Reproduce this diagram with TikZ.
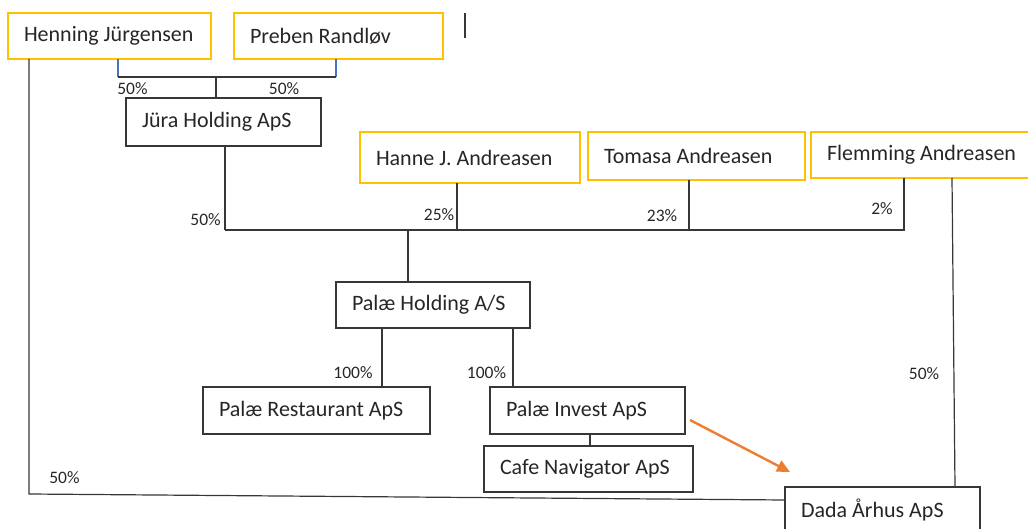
\documentclass[tikz,border=0pt]{standalone}
\usepackage{fontspec}
\setmainfont{Carlito}
\usetikzlibrary{arrows.meta}
\definecolor{txt}{RGB}{38,38,38}
\definecolor{ln}{RGB}{55,55,55}
\definecolor{gold}{RGB}{255,192,0}
\definecolor{orng}{RGB}{237,125,49}
\definecolor{blu}{RGB}{68,114,196}
\newcommand\lbx[2]{\makebox[#1pt][l]{#2}}
\begin{document}
\begin{tikzpicture}[x=1pt,y=-1pt,
  bx/.style={draw=ln, line width=1.2pt, text=txt, font=\fontsize{22}{26}\selectfont,
    inner xsep=16pt, inner ysep=0pt, outer sep=0pt, anchor=north west},
  own/.style={bx, draw=gold},
  pct/.style={text=txt, font=\fontsize{17.5}{20}\selectfont, inner sep=0pt},
  con/.style={draw=ln, line width=1.2pt},
  blueline/.style={draw=blu, line width=1.1pt},
  arr/.style={draw=orng, line width=2.4pt, -{Triangle[length=13pt,width=12pt]}}]
\useasboundingbox (0,0) rectangle (1028,529);

% boxes
\node[own, minimum height=46pt] (hj) at (8,13) {\lbx{171}{Henning Jürgensen}};
\node[own, minimum height=46pt] (pr) at (234,13) {\lbx{177}{Preben Randløv}};
\node[bx, minimum height=48pt] (jura) at (126,98) {\lbx{163}{Jüra Holding ApS}};
\node[own, minimum height=51pt] (hanne) at (360,132) {\lbx{188}{Hanne J. Andreasen}};
\node[own, minimum height=48pt] (tomasa) at (588,132) {\lbx{185}{Tomasa Andreasen}};
\node[own, minimum height=46pt] (flemming) at (811,132) {\lbx{188}{Flemming Andreasen}};
\node[bx, minimum height=46pt] (holding) at (336,282) {\lbx{162}{Palæ Holding A/S}};
\node[bx, minimum height=47pt] (rest) at (203,387) {\lbx{195}{Palæ Restaurant ApS}};
\node[bx, minimum height=47pt] (invest) at (490,387) {\lbx{163}{Palæ Invest ApS}};
\node[bx, minimum height=46pt] (cafe) at (484,446) {\lbx{177}{Cafe Navigator ApS}};
\node[bx, minimum height=46pt] (dada) at (785,487) {\lbx{163}{Dada Århus ApS}};

% coordinates
\coordinate (a1) at (118,77);
\coordinate (a2) at (336,77);
\coordinate (a3) at (216,77);
\coordinate (b0) at (225,230);
\coordinate (b1) at (905,230);
\coordinate (b2) at (457,230);
\coordinate (b3) at (689,230);
\coordinate (b4) at (904,230);
\coordinate (b5) at (408,230);
\coordinate (c1) at (382,387);
\coordinate (c2) at (513,387);
\coordinate (c3) at (590,446);
\coordinate (d1) at (29,494);
\coordinate (e1) at (952,178);
\coordinate (e2) at (955,487);
\coordinate (f1) at (690,420);
\coordinate (f2) at (790,472);
\coordinate (g1) at (465,13);
\coordinate (g2) at (465,38);

% connectors
\draw[blueline] (hj.south -| a1) -- (a1);
\draw[blueline] (pr.south -| a2) -- (a2);
\draw[con] (a1) -- (a2);
\draw[con] (a3) -- (jura.north -| a3);
\draw[con] (jura.south -| b0) -- (b0);
\draw[con] (b0) -- (b1);
\draw[con] (hanne.south -| b2) -- (b2);
\draw[con] (tomasa.south -| b3) -- (b3);
\draw[con] (flemming.south -| b4) -- (b4);
\draw[con] (b5) -- (holding.north -| b5);
\draw[con] (holding.south -| c1) -- (rest.north -| c1);
\draw[con] (holding.south -| c2) -- (invest.north -| c2);
\draw[con] (invest.south -| c3) -- (cafe.north -| c3);
\draw[con] (hj.south -| d1) -- (d1) -- ([yshift=10pt]dada.west);
\draw[con] (flemming.south -| e1) -- (dada.north -| e2);
\draw[arr] (f1) -- (f2);
\draw[con] (g1) -- (g2);

% labels
\node[pct] (l1) at (132.5,88.5) {50\%};
\node[pct] (l2) at (284,88.5) {50\%};
\node[pct] (l3) at (205.5,220) {50\%};
\node[pct] (l4) at (439,215) {25\%};
\node[pct] (l5) at (662,216) {23\%};
\node[pct] (l6) at (882,208.5) {2\%};
\node[pct] (l7) at (353,372.5) {100\%};
\node[pct] (l8) at (486.5,372.5) {100\%};
\node[pct] (l9) at (64.5,477.5) {50\%};
\node[pct] (l10) at (924,374) {50\%};
\end{tikzpicture}
\end{document}
